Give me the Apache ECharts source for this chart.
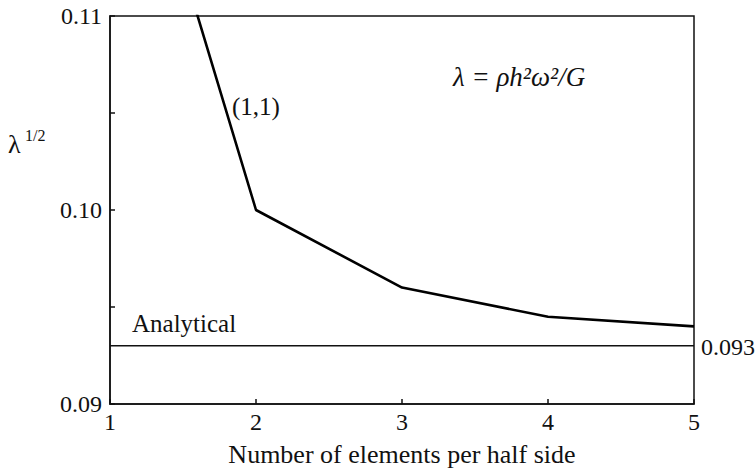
<!DOCTYPE html>
<html>
<head>
<meta charset="utf-8">
<script src="https://cdn.jsdelivr.net/npm/echarts@6/dist/echarts.min.js"></script>
<style>
  html, body { margin: 0; padding: 0; background: #fff; }
  #chart { width: 756px; height: 471px; }
</style>
</head>
<body>
<div id="chart"></div>
<script>
// Square root of the frequency parameter against mesh refinement
const elementsPerHalfSide = [1, 2, 3, 4, 5];
const sqrtLambdaFE = [0.125, 0.100, 0.096, 0.0945, 0.0940];
const analyticalValue = 0.093;
const analyticalX = [1, 5];
const yTickLabels = ['0.09', '0.10', '0.11'];
const xTickLabels = ['1', '2', '3', '4', '5'];

const FONT = '"Liberation Serif", "DejaVu Serif", serif';

const chart = echarts.init(document.getElementById('chart'), null, { renderer: 'svg' });

const feData = elementsPerHalfSide.map((x, i) => [x, sqrtLambdaFE[i]]);
const analyticalData = analyticalX.map(x => [x, analyticalValue]);

chart.setOption({
  backgroundColor: '#fff',
  animation: false,
  grid: {
    left: 110, right: 62, top: 16, bottom: 67,
    outerBoundsMode: 'none', containLabel: false,
    show: true, borderColor: '#111', borderWidth: 1.5,
    backgroundColor: 'transparent'
  },
  xAxis: {
    type: 'value', min: 1, max: 5, interval: 1,
    axisLine: { lineStyle: { color: '#111', width: 1.5 } },
    axisTick: { inside: true, length: 5, lineStyle: { color: '#111', width: 1.5 } },
    splitLine: { show: false },
    axisLabel: {
      color: '#111', fontFamily: FONT, fontSize: 24, margin: 6,
      formatter: v => xTickLabels[Math.round(v) - 1] || ''
    },
    name: 'Number of elements per half side',
    nameLocation: 'middle', nameGap: 37,
    nameTextStyle: { color: '#111', fontFamily: FONT, fontSize: 26 }
  },
  yAxis: {
    type: 'value', min: 0.09, max: 0.11, interval: 0.005,
    axisLine: { lineStyle: { color: '#111', width: 1.5 } },
    axisTick: { inside: true, length: 5, lineStyle: { color: '#111', width: 1.5 } },
    splitLine: { show: false },
    axisLabel: {
      color: '#111', fontFamily: FONT, fontSize: 24, margin: 8,
      formatter: v => {
        const k = Math.round((v - 0.09) / 0.005);
        return k % 2 === 0 ? (yTickLabels[k / 2] || '') : '';
      }
    }
  },
  series: [
    {
      name: '(1,1)', type: 'line', data: feData,
      symbol: 'none', clip: true,
      lineStyle: { color: '#000', width: 2.6 }, z: 3
    },
    {
      name: 'Analytical', type: 'line', data: analyticalData,
      symbol: 'none',
      lineStyle: { color: '#111', width: 1.5 }, z: 2
    }
  ],
  graphic: [
    { type: 'text', left: 8, top: 131,
      style: { text: 'λ', font: '26px ' + FONT, fill: '#111' } },
    { type: 'text', left: 25, top: 127,
      style: { text: '1/2', font: '16px ' + FONT, fill: '#111' } },
    { type: 'text', left: 232, top: 94,
      style: { text: '(1,1)', font: '25px ' + FONT, fill: '#111' } },
    { type: 'text', left: 132, top: 311,
      style: { text: 'Analytical', font: '25px ' + FONT, fill: '#111' } },
    { type: 'text', left: 701, top: 335,
      style: { text: '0.093', font: '24px ' + FONT, fill: '#111' } },
    { type: 'text', left: 453, top: 63,
      style: { text: 'λ = ρh²ω²/G', font: 'italic 27px ' + FONT, fill: '#111' } }
  ]
});
</script>
</body>
</html>
